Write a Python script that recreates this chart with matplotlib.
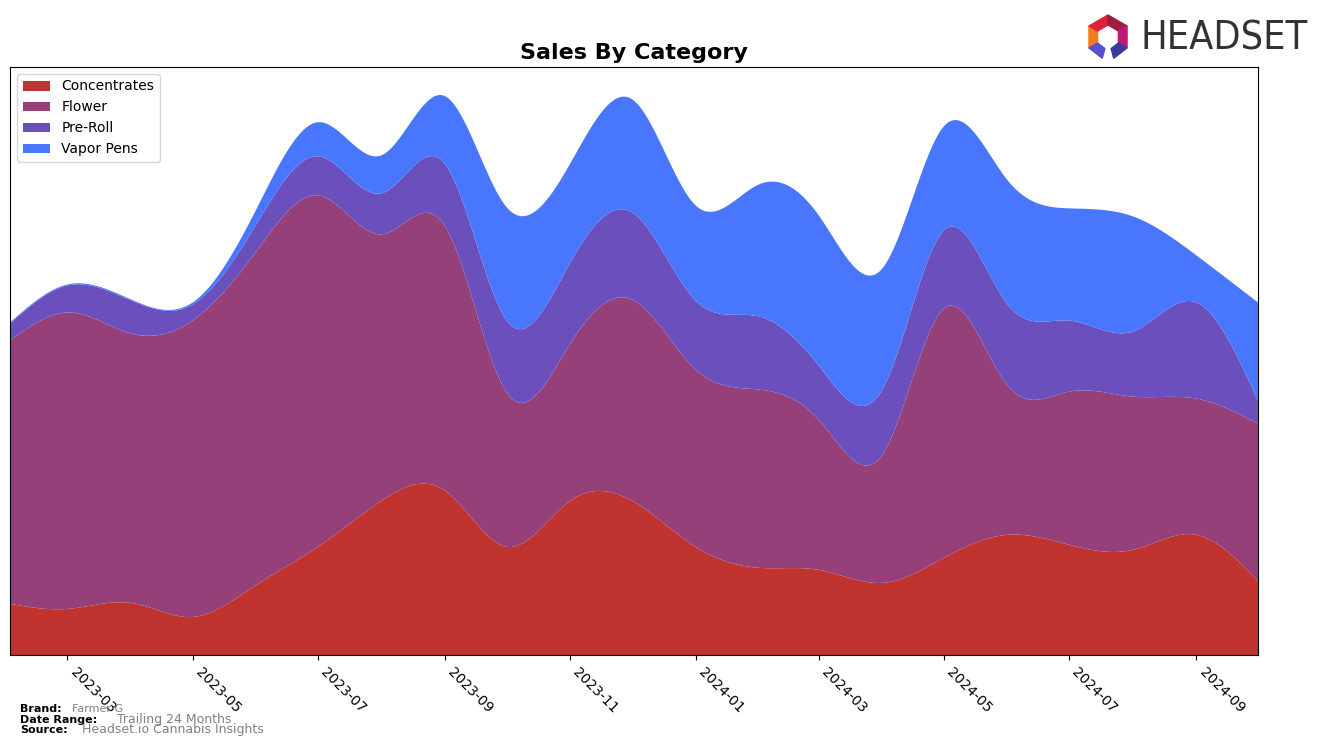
import matplotlib
matplotlib.use("Agg")
import matplotlib.pyplot as plt
import matplotlib.dates as mdates
from matplotlib.patches import Polygon
import numpy as np
import pandas as pd

# monthly sales by category (arbitrary units)
months = pd.date_range("2023-02-01", "2024-10-01", freq="MS")
categories = ["Concentrates", "Flower", "Pre-Roll", "Vapor Pens"]
concentrates = [51, 46, 52, 38, 70, 108, 154, 164, 108, 154, 154,
                108, 87, 85, 72, 97, 120, 110, 105, 120, 74]
flower = [263, 296, 269, 296, 333, 351, 266, 264, 154, 157, 201,
          177, 178, 150, 128, 249, 149, 153, 153, 136, 157]
preroll = [17, 27, 33, 16, 27, 39, 41, 62, 72, 81, 87,
           69, 73, 54, 65, 78, 81, 71, 65, 96, 23]
vapor = [1, 1, 1, 2, 15, 34, 38, 68, 113, 99, 113,
         95, 132, 150, 121, 104, 124, 112, 115, 47, 98]
colors = ["#c0332f", "#964079", "#6a4fbd", "#4877fe"]


def natural_spline(x, y, xs):
    x = np.asarray(x, float)
    y = np.asarray(y, float)
    n = len(x)
    h = np.diff(x)
    A = np.zeros((n, n))
    b = np.zeros(n)
    A[0, 0] = A[-1, -1] = 1
    for i in range(1, n - 1):
        A[i, i - 1] = h[i - 1]
        A[i, i] = 2 * (h[i - 1] + h[i])
        A[i, i + 1] = h[i]
        b[i] = 6 * ((y[i + 1] - y[i]) / h[i] - (y[i] - y[i - 1]) / h[i - 1])
    M = np.linalg.solve(A, b)
    idx = np.clip(np.searchsorted(x, xs) - 1, 0, n - 2)
    x0, x1 = x[idx], x[idx + 1]
    hh = x1 - x0
    t0, t1 = x1 - xs, xs - x0
    return (M[idx] * t0**3 / (6 * hh) + M[idx + 1] * t1**3 / (6 * hh)
            + (y[idx] / hh - M[idx] * hh / 6) * t0
            + (y[idx + 1] / hh - M[idx + 1] * hh / 6) * t1)


xd = mdates.date2num(months.to_pydatetime())
xs = np.linspace(xd[0], xd[-1], 800)
series = [concentrates, flower, preroll, vapor]
smooth = [np.clip(natural_spline(xd, s, xs), 0, None) for s in series]

fig = plt.figure(figsize=(13.22, 7.47), dpi=100)
ax = fig.add_axes([10 / 1322, 1 - 655 / 747, 1248 / 1322, 588 / 747])

ax.stackplot(xs, *smooth, labels=categories, colors=colors)
ax.set_xlim(xd[0], xd[-1])
ax.set_ylim(0, np.sum(smooth, axis=0).max() * 1.05)
ax.set_yticks([])

ax.xaxis.set_major_locator(mdates.MonthLocator(bymonth=[1, 3, 5, 7, 9, 11]))
ax.xaxis.set_major_formatter(mdates.DateFormatter("%Y-%m"))
plt.setp(ax.get_xticklabels(), rotation=-45, ha="left")
ax.tick_params(axis="x", labelsize=10)

ax.set_title("Sales By Category", fontsize=16, fontweight="bold")
ax.legend(loc="upper left", fontsize=10)

# footer
fig.text(20 / 1322, 1 - 709 / 747, "Brand:", fontsize=8, fontweight="bold", va="center")
fig.text(72 / 1322, 1 - 709 / 747, "Farmer G", fontsize=8, color="gray", va="center")
fig.text(20 / 1322, 1 - 720 / 747, "Date Range:", fontsize=8, fontweight="bold", va="center")
fig.text(117 / 1322, 1 - 719 / 747, "Trailing 24 Months", fontsize=9, color="gray", va="center")
fig.text(20 / 1322, 1 - 730 / 747, "Source:", fontsize=8, fontweight="bold", va="center")
fig.text(82 / 1322, 1 - 730 / 747, "Headset.io Cannabis Insights", fontsize=9, color="gray", va="center")

# logo
logo = fig.text(1140 / 1322, 1 - 38 / 747, "HEADSET", fontsize=30, color="#333333",
                va="center", ha="left", family="DejaVu Sans", fontstretch="condensed")
fig.canvas.draw()
w = logo.get_window_extent().width
logo.set_fontsize(30 * 167 / w)

cx, cy, ro, ri = 1108, 37, 22, 12
seg_colors = ["#f47b20", "#e0203a", "#a01c3c", "#c0187a", "#3a3a9a", "#5a4fcf"]
seg_angles = [(210, 150), (150, 90), (90, 30), (30, -30), (-30, -75), (-105, -150)]
for (a0, a1), c in zip(seg_angles, seg_colors):
    pts = []
    for a, r in [(a0, ro), (a1, ro), (a1, ri), (a0, ri)]:
        t = np.deg2rad(a)
        px, py = cx + r * np.cos(t), cy - r * np.sin(t)
        pts.append((px / 1322, 1 - py / 747))
    fig.patches.append(Polygon(pts, closed=True, color=c, transform=fig.transFigure))

fig.savefig("out.png", dpi=100, facecolor="white")
